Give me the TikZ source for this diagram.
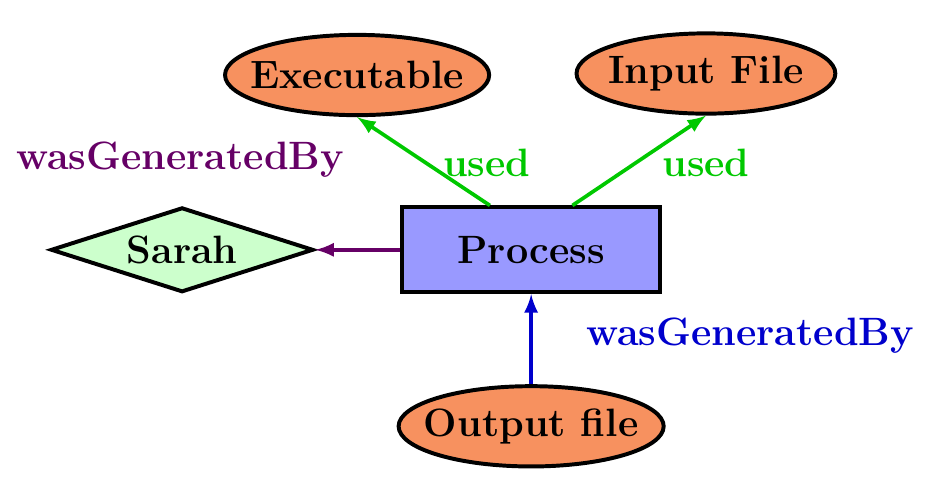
\documentclass[tikz,border=0pt]{standalone}
\usetikzlibrary{arrows, positioning, shapes.geometric}
\tikzset{
    %Define standard arrow tip
    >=latex,
}
\definecolor{artorange}{RGB}{247,145,95}
\definecolor{procblue}{RGB}{153,153,255}
\definecolor{agentgreen}{RGB}{204,255,204}
\definecolor{usedgreen}{RGB}{0,200,0}
\definecolor{genpurple}{RGB}{102,0,102}
\definecolor{genblue}{RGB}{0,0,204}
\begin{document}
\begin{tikzpicture}[font=\fontsize{15}{18}\selectfont\bfseries]
	\tikzset{
	  art/.style={draw, fill=artorange,
	             shape=ellipse,
		     line width=1.5pt,
		     minimum width=3.45cm, minimum height=1.07cm,
		     inner xsep=-0.18cm, inner ysep=0pt},
	  proc/.style={draw, fill=procblue,
	             shape=rectangle,
		     line width=1.5pt,
		     minimum width=3.44cm, minimum height=1.13cm},
	  agent/.style={draw, fill=agentgreen,
	             shape=diamond, aspect=3.1,
		     line width=1.5pt,
		     minimum width=3.5cm, minimum height=1.13cm, inner sep=0pt},
	  edg/.style={->, line width=1.4pt}
	}
	\useasboundingbox (0,0) rectangle (12.65,-6.53);

	\node [proc] at (7.08,-3.33) (process) {Process};
	\node [agent, left =1.13cm of process] (sarah) {Sarah};
	\node [art, below =1.2cm of process] (output) {Output file};
	\node [art] at (4.76,-1.0) (exe) {Executable};
	\node [art] at (9.41,-0.98) (input) {Input File};

	\draw[edg, usedgreen] ([xshift=-0.55cm]process.north) -- (exe.south);
	\draw[edg, usedgreen] ([xshift=0.55cm]process.north) -- (input.south);
	\draw[edg, genpurple] (process) -- (sarah);
	\draw[edg, genblue] (output) -- (process);

	% edge labels
	\node[usedgreen] at (6.49,-2.17) (usedexe) {used};
	\node[usedgreen] at (9.41,-2.17) (usedinput) {used};
	\node[genpurple] at (2.4,-2.13) (genagent) {wasGeneratedBy};
	\node[genblue] at (10.0,-4.47) (genoutput) {wasGeneratedBy};
\end{tikzpicture}
\end{document}
